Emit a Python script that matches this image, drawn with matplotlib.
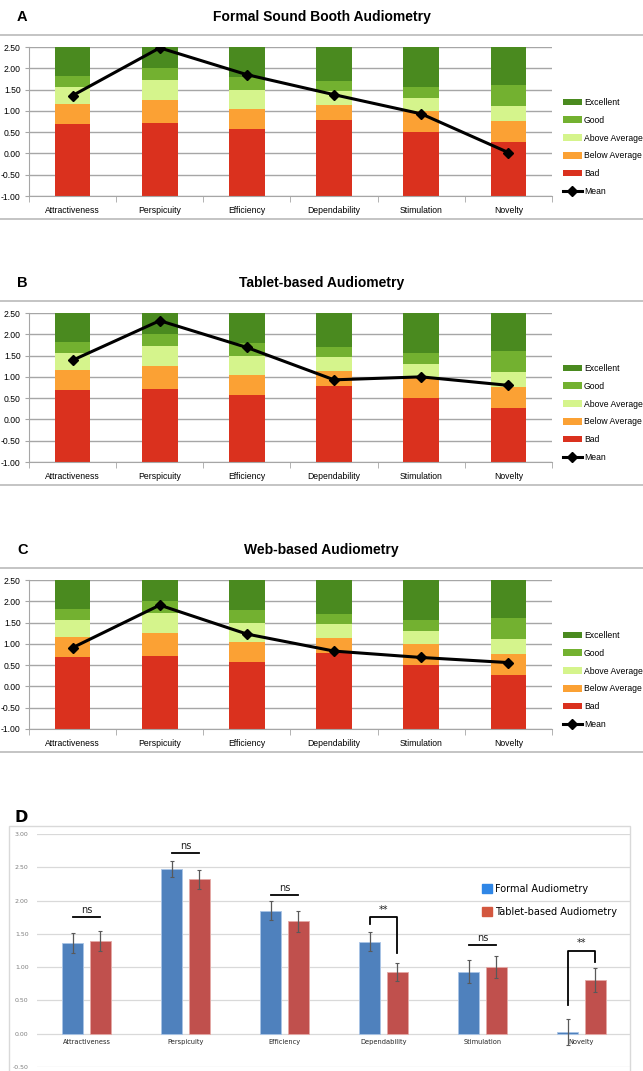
import matplotlib
matplotlib.use("Agg")
import matplotlib.pyplot as plt
from matplotlib.lines import Line2D
from matplotlib.patches import Patch, Rectangle

# UEQ scales
categories = ["Attractiveness", "Perspicuity", "Efficiency",
              "Dependability", "Stimulation", "Novelty"]

# benchmark band upper limits (bands stack from -1.00 up to 2.50)
bench_floor = -1.0
bench_bad = [0.70, 0.72, 0.57, 0.78, 0.50, 0.26]
bench_below = [1.17, 1.25, 1.05, 1.14, 1.00, 0.77]
bench_above = [1.55, 1.73, 1.48, 1.47, 1.31, 1.12]
bench_good = [1.83, 2.00, 1.80, 1.70, 1.55, 1.60]
bench_excellent = [2.50, 2.50, 2.50, 2.50, 2.50, 2.50]

# scale means per test setting
mean_formal = [1.36, 2.48, 1.85, 1.38, 0.93, 0.02]
mean_tablet = [1.39, 2.32, 1.69, 0.93, 1.00, 0.80]
mean_web = [0.91, 1.91, 1.23, 0.83, 0.68, 0.56]

# error bars for panel D
err_formal = [0.155, 0.12, 0.14, 0.145, 0.17, 0.195]
err_tablet = [0.15, 0.14, 0.16, 0.135, 0.16, 0.18]

# significance marks for panel D
sig_text = ["ns", "ns", "ns", "**", "ns", "**"]
sig_y = [1.75, 2.72, 2.08, 1.75, 1.33, 1.25]
sig_leg_left = [None, None, None, 1.65, None, 0.425]
sig_leg_right = [None, None, None, 1.205, None, 1.075]

W, H = 643, 1071
fig = plt.figure(figsize=(W / 100, H / 100), dpi=100)
fig.patch.set_facecolor("white")


def add_axes_px(x0, y0, x1, y1):
    return fig.add_axes([x0 / W, 1 - y1 / H, (x1 - x0) / W, (y1 - y0) / H])


def hline_px(y, x0=0, x1=W, color="#BFBFBF", lw=1.3):
    fig.add_artist(Line2D([x0 / W, x1 / W], [1 - y / H, 1 - y / H],
                          transform=fig.transFigure, color=color, lw=lw))


band_cols = {
    "Excellent": "#4A8A1F",
    "Good": "#73B130",
    "Above Average": "#D5F48C",
    "Below Average": "#FBA134",
    "Bad": "#DA311E",
}
xl = "Liberation Sans"


def benchmark_panel(top, letter, title, means):
    # title and letter
    fig.text(17 / W, 1 - (top + 17) / H, letter, fontsize=10.5, weight="bold",
             family=xl, ha="left", va="center")
    fig.text(0.5, 1 - (top + 17) / H, title, fontsize=10, weight="bold",
             family=xl, ha="center", va="center")
    hline_px(top + 35)
    hline_px(top + 219)

    ax = add_axes_px(29, top + 47, 552, top + 196)
    x = list(range(len(categories)))
    bands = [
        ("Bad", [bench_floor] * 6, bench_bad),
        ("Below Average", bench_bad, bench_below),
        ("Above Average", bench_below, bench_above),
        ("Good", bench_above, bench_good),
        ("Excellent", bench_good, bench_excellent),
    ]
    handles = {}
    for name, lo, hi in bands:
        h = [b - a for a, b in zip(lo, hi)]
        handles[name] = ax.bar(x, h, bottom=lo, width=0.41,
                               color=band_cols[name], zorder=2, label=name)
    ln, = ax.plot(x, means, color="black", lw=2.2, marker="D", ms=5,
                  zorder=3, label="Mean")

    ax.set_xlim(-0.5, 5.5)
    ax.set_ylim(-1.0, 2.5)
    ax.set_yticks([-1.0, -0.5, 0.0, 0.5, 1.0, 1.5, 2.0, 2.5])
    ax.set_yticklabels([f"{v:.2f}" for v in ax.get_yticks()],
                       family=xl, fontsize=6.2)
    ax.grid(axis="y", color="#A6A6A6", lw=1.0, zorder=0)
    ax.set_xticks(x)
    ax.set_xticklabels(categories, family=xl, fontsize=6.2)
    ax.set_xticks([i + 0.5 for i in range(-1, 6)], minor=True)
    ax.tick_params(axis="x", which="major", length=0, pad=7)
    ax.tick_params(axis="x", which="minor", length=4, color="#A6A6A6")
    ax.tick_params(axis="y", length=3, color="#A6A6A6", pad=3)
    for s in ["top", "right"]:
        ax.spines[s].set_visible(False)
    for s in ["left", "bottom"]:
        ax.spines[s].set_color("#A6A6A6")

    order = ["Excellent", "Good", "Above Average", "Below Average", "Bad"]
    ax.legend([handles[k] for k in order] + [ln], order + ["Mean"],
              loc="upper left", bbox_to_anchor=(563 / W, 1 - (top + 98) / H),
              bbox_transform=fig.transFigure, frameon=False,
              prop={"family": xl, "size": 6.2}, labelspacing=1.02,
              handlelength=2.2, handleheight=0.8, handletextpad=0.25,
              borderaxespad=0, borderpad=0)
    return ax


benchmark_panel(0, "A", "Formal Sound Booth Audiometry", mean_formal)
benchmark_panel(266, "B", "Tablet-based Audiometry", mean_tablet)
benchmark_panel(533, "C", "Web-based Audiometry", mean_web)

# panel D: formal vs tablet means with significance
fig.text(15 / W, 1 - 817 / H, "D", fontsize=11.5, weight="bold",
         ha="left", va="center")
fig.add_artist(Rectangle((9 / W, -0.01), (630 - 9) / W, 1 - 826 / H + 0.01,
                         transform=fig.transFigure, fill=False,
                         edgecolor="#D9D9D9", lw=1.0))

axd = add_axes_px(37, 834, 631, 1067)
x = list(range(len(categories)))
off = 0.141
bw = 0.215
blue, red = "#4F81BD", "#C0504D"
axd.bar([i - off for i in x], mean_formal, width=bw, color=blue,
        edgecolor="#A9C4E6", lw=0.6, zorder=2)
axd.bar([i + off for i in x], mean_tablet, width=bw, color=red,
        edgecolor="#E4A9A6", lw=0.6, zorder=2)
axd.errorbar([i - off for i in x], mean_formal, yerr=err_formal, fmt="none",
             ecolor="#595959", elinewidth=0.9, capsize=1.5, capthick=0.8, zorder=3)
axd.errorbar([i + off for i in x], mean_tablet, yerr=err_tablet, fmt="none",
             ecolor="#595959", elinewidth=0.9, capsize=1.5, capthick=0.8, zorder=3)

for i in x:
    xa, xb = i - off, i + off
    y = sig_y[i]
    if sig_leg_left[i] is None:
        axd.plot([xa, xb], [y, y], color="black", lw=1.3, zorder=4)
        axd.text(i, y + 0.03, sig_text[i], ha="center", va="bottom",
                 fontsize=7, color="#222222")
    else:
        axd.plot([xa, xa, xb, xb], [sig_leg_left[i], y, y, sig_leg_right[i]],
                 color="black", lw=1.3, zorder=4)
        axd.text(i, y + 0.04, sig_text[i], ha="center", va="bottom",
                 fontsize=7, color="#222222")
    axd.text(i, -0.12, categories[i], ha="center", va="center",
             fontsize=4.8, color="#262626")

axd.set_xlim(-0.5, 5.5)
axd.set_ylim(-0.5, 3.0)
axd.set_yticks([-0.5, 0.0, 0.5, 1.0, 1.5, 2.0, 2.5, 3.0])
axd.set_yticklabels([f"{v:.2f}" for v in axd.get_yticks()],
                    fontsize=4.5, color="#7F7F7F")
axd.tick_params(axis="y", length=0, pad=6)
axd.set_xticks([])
axd.grid(axis="y", color="#D9D9D9", lw=0.9, zorder=0)
for s in axd.spines.values():
    s.set_visible(False)

axd.legend([Patch(color="#2F86E6"), Patch(color="#D3573F")],
           ["Formal Audiometry", "Tablet-based Audiometry"],
           loc="upper left", bbox_to_anchor=(482 / W, 1 - 884 / H),
           bbox_transform=fig.transFigure, frameon=False, fontsize=7,
           handlelength=1.0, handleheight=1.0, handletextpad=0.35,
           labelspacing=1.3, borderaxespad=0, borderpad=0)

fig.savefig("out.png", dpi=100)
